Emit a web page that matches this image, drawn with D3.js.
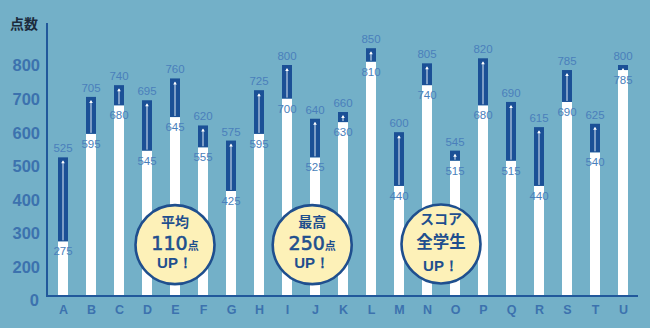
<!DOCTYPE html>
<html><head><meta charset="utf-8">
<script src="https://cdn.jsdelivr.net/npm/d3@7"></script>
<style>
html,body{margin:0;padding:0;background:#73b0c8;}
svg{display:block;}
</style></head>
<body>
<svg id="chart" width="650" height="328"></svg>
<script>
const categories = ["A","B","C","D","E","F","G","H","I","J","K","L","M","N","O","P","Q","R","S","T","U"];
const before = [275,595,680,545,645,555,425,595,700,525,630,810,440,740,515,680,515,440,690,540,785];
const after  = [525,705,740,695,760,620,575,725,800,640,660,850,600,805,545,820,690,615,785,625,800];
const yTicks = [0,200,300,400,500,600,700,800];
const yTitle = "点数";
const badgeAt = [4, 8.9, 13.5];        // category index of badge centre
const badgeValue = [265, 265, 267];    // score level of badge centre
const badgeLine1 = ["平均","最高","スコア"];
const badgeNum = ["110","250",""];
const badgeUnit = ["点","点","全学生"];
const badgeLine3 = ["UP！","UP！","UP！"];

const svg = d3.select("#chart");
const W = 650, H = 328;
svg.append("rect").attr("width",W).attr("height",H).attr("fill","#73b0c8");

const x = d3.scalePoint().domain(categories).range([63, 623]);
const y = d3.scaleLinear().domain([0,200,800]).range([296,266.5,65]);
const step = x.step();
const bw = 10;
const dark = "#1b5096", axisCol = "#21589b", lblCol = "#4a7fbb", tickCol = "#3c72ae";
const latin = "Liberation Sans, Arial, sans-serif";

// bars
const g = svg.append("g");
categories.forEach((c,i)=>{
  const cx = x(c);
  g.append("rect").attr("x",cx-bw/2).attr("y",y(before[i])).attr("width",bw)
    .attr("height",y(0)-y(before[i])).attr("fill","#ffffff");
  g.append("rect").attr("x",cx-bw/2).attr("y",y(after[i])).attr("width",bw)
    .attr("height",y(before[i])-y(after[i])).attr("fill",dark);
  const top = y(after[i])+4, bot = y(before[i])-1;
  if (bot-top > 3) {
    g.append("line").attr("x1",cx).attr("x2",cx).attr("y1",bot).attr("y2",top)
      .attr("stroke","#dfeaf5").attr("stroke-width",1);
  }
  g.append("path").attr("d",`M${cx-1.8},${top+2}L${cx},${top-1}L${cx+1.8},${top+2}Z`).attr("fill","#ffffff");
  g.append("text").attr("x",cx).attr("y",y(after[i])-9).attr("text-anchor","middle")
    .attr("dominant-baseline","central").attr("font-family",latin)
    .attr("font-size",11.5).attr("fill",lblCol).text(after[i]);
  g.append("text").attr("x",cx).attr("y",y(before[i])+10).attr("text-anchor","middle")
    .attr("dominant-baseline","central").attr("font-family",latin)
    .attr("font-size",11.5).attr("fill",lblCol).text(before[i]);
});

// y axis
const yAxis = d3.axisLeft(y).tickValues(yTicks).tickSize(0).tickPadding(7).tickFormat(d3.format("d"));
const ya = svg.append("g").attr("transform","translate(47,0)").call(yAxis);
ya.select(".domain").remove();
ya.selectAll("text").attr("font-family",latin).attr("font-weight","bold")
  .attr("font-size",16.5).attr("fill",tickCol).attr("dy","0.36em")
  .filter(d=>d===0).attr("dy","0.6em").attr("dx","-1");

// x axis labels
const xAxis = d3.axisBottom(x).tickSize(0).tickPadding(9);
const xa = svg.append("g").attr("transform",`translate(0,${y(0)})`).call(xAxis);
xa.select(".domain").remove();
xa.selectAll("text").attr("font-family",latin).attr("font-weight","bold")
  .attr("font-size",12.5).attr("fill",tickCol);

// axis lines
svg.append("line").attr("x1",47).attr("x2",47).attr("y1",23).attr("y2",y(0)+1)
  .attr("stroke",axisCol).attr("stroke-width",2);
svg.append("line").attr("x1",46).attr("x2",638).attr("y1",y(0)).attr("y2",y(0))
  .attr("stroke",axisCol).attr("stroke-width",2);

svg.append("text").attr("x",10).attr("y",23).attr("dominant-baseline","central")
  .attr("font-family","Noto Sans CJK JP, sans-serif").attr("font-weight","bold")
  .attr("font-size",14).attr("fill","#1c2b3c").text(yTitle);

// badges
const cjk = "Noto Sans CJK JP, sans-serif";
const navy = "#1f4f8e";
badgeAt.forEach((idx,i)=>{
  const cx = x.range()[0] + idx*step, cy = y(badgeValue[i]);
  const b = svg.append("g");
  b.append("circle").attr("cx",cx).attr("cy",cy).attr("r",39.5)
    .attr("fill","#fdf1b8").attr("stroke",navy).attr("stroke-width",2.6);
  const hasNum = !!badgeNum[i];
  b.append("text").attr("x",cx).attr("y",hasNum ? cy-18 : cy-19.5).attr("text-anchor","middle")
    .attr("font-family",cjk).attr("font-weight","bold").attr("font-size",14).attr("fill",navy).text(badgeLine1[i]);
  const t = b.append("text").attr("x",cx).attr("y",hasNum ? cy+5 : cy+4.5).attr("text-anchor","middle")
    .attr("font-weight","bold").attr("fill",navy);
  if (hasNum) {
    t.append("tspan").attr("font-family","DejaVu Sans, sans-serif").attr("font-weight","normal")
      .attr("stroke",navy).attr("stroke-width",0.6)
      .attr("font-size",19).text(badgeNum[i]);
    t.append("tspan").attr("font-family",cjk).attr("font-size",11).text(badgeUnit[i]);
  } else {
    t.append("tspan").attr("font-family",cjk).attr("font-size",16.5).text(badgeUnit[i]);
  }
  b.append("text").attr("x",cx).attr("y",hasNum ? cy+23 : cy+27).attr("text-anchor","middle")
    .attr("font-family",latin).attr("font-weight","bold").attr("font-size",15).attr("fill",navy).text(badgeLine3[i]);
});
</script>
</body></html>
